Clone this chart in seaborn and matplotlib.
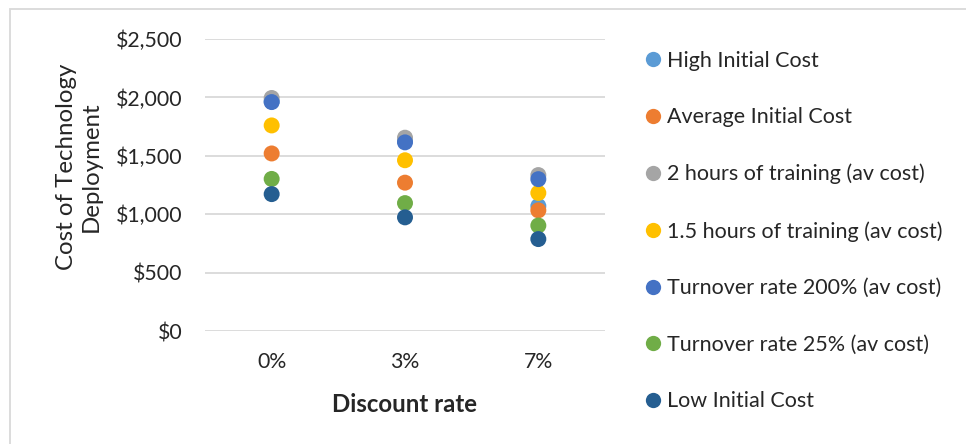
import matplotlib
matplotlib.use("Agg")
import matplotlib.pyplot as plt
import matplotlib.patches as mpatches
from matplotlib.lines import Line2D
import seaborn as sns
import pandas as pd

rates = ["0%", "3%", "7%"]
series = [
    "High Initial Cost",
    "Average Initial Cost",
    "2 hours of training (av cost)",
    "1.5 hours of training (av cost)",
    "Turnover rate 200% (av cost)",
    "Turnover rate 25% (av cost)",
    "Low Initial Cost",
]
high_initial = [1965, 1630, 1070]
average_initial = [1520, 1270, 1033]
training_2h = [1995, 1655, 1335]
training_15h = [1760, 1462, 1182]
turnover_200 = [1960, 1615, 1300]
turnover_25 = [1302, 1095, 903]
low_initial = [1172, 973, 787]
values = [high_initial, average_initial, training_2h, training_15h,
          turnover_200, turnover_25, low_initial]
colors = ["#5B9BD5", "#ED7D31", "#A5A5A5", "#FFC000", "#4472C4", "#70AD47", "#255E91"]
yticks = [0, 500, 1000, 1500, 2000, 2500]
ytick_labels = ["$0", "$500", "$1,000", "$1,500", "$2,000", "$2,500"]

rows = []
for s, vals in zip(series, values):
    for r, v in zip(rates, vals):
        rows.append({"rate": r, "cost": v, "series": s})
df = pd.DataFrame(rows)

sns.set_theme(style="white")
plt.rcParams['font.family'] = ['Lato', 'DejaVu Sans']

W, H = 966, 444
fig = plt.figure(figsize=(W / 100, H / 100), dpi=100)
ax = fig.add_axes([205 / W, 1 - 331 / H, 400 / W, 292 / H])

sns.stripplot(data=df, x="rate", y="cost", hue="series", hue_order=series,
              palette=colors, order=rates, jitter=False, dodge=False,
              size=11.5, linewidth=0, ax=ax, legend=False, zorder=3)

ax.set_xlim(-0.5, 2.5)
ax.set_ylim(0, 2500)
ax.set_yticks(yticks)
ax.set_yticklabels(ytick_labels)
for s in ax.spines.values():
    s.set_visible(False)
ax.grid(axis="y", color="#D9D9D9", linewidth=1.3, zorder=0)
ax.set_axisbelow(True)
ax.tick_params(axis="both", length=0, labelsize=15.3, colors="#262626")
ax.tick_params(axis="y", pad=16)
ax.tick_params(axis="x", pad=15)
ax.set_xlabel("Discount rate", fontsize=17.3, fontweight="bold", color="#262626")
ax.set_ylabel("Cost of Technology\nDeployment", fontsize=17.3, color="#262626",
              linespacing=1.25)
ax.yaxis.set_label_coords((102 - 205) / 400, (331 - 167) / 292)
ax.xaxis.set_label_coords(0.5, (331 - 393) / 292)

handles = [Line2D([0], [0], marker="o", linestyle="none", markersize=11,
                  markerfacecolor=c, markeredgewidth=0) for c in colors]
fig.legend(handles, series, loc="upper left", bbox_to_anchor=(634 / W, 1 - 42 / H),
           frameon=False, fontsize=15.5, labelspacing=1.70, handletextpad=0.12,
           handlelength=1.0, borderaxespad=0, labelcolor="#262626")

border = mpatches.Rectangle((9.5 / W, -0.05), 1.0, 1 - 9.5 / H + 0.05, transform=fig.transFigure,
                            fill=False, edgecolor="#D9D9D9", linewidth=1.3)
fig.patches.append(border)

fig.savefig("out.png", dpi=100)
